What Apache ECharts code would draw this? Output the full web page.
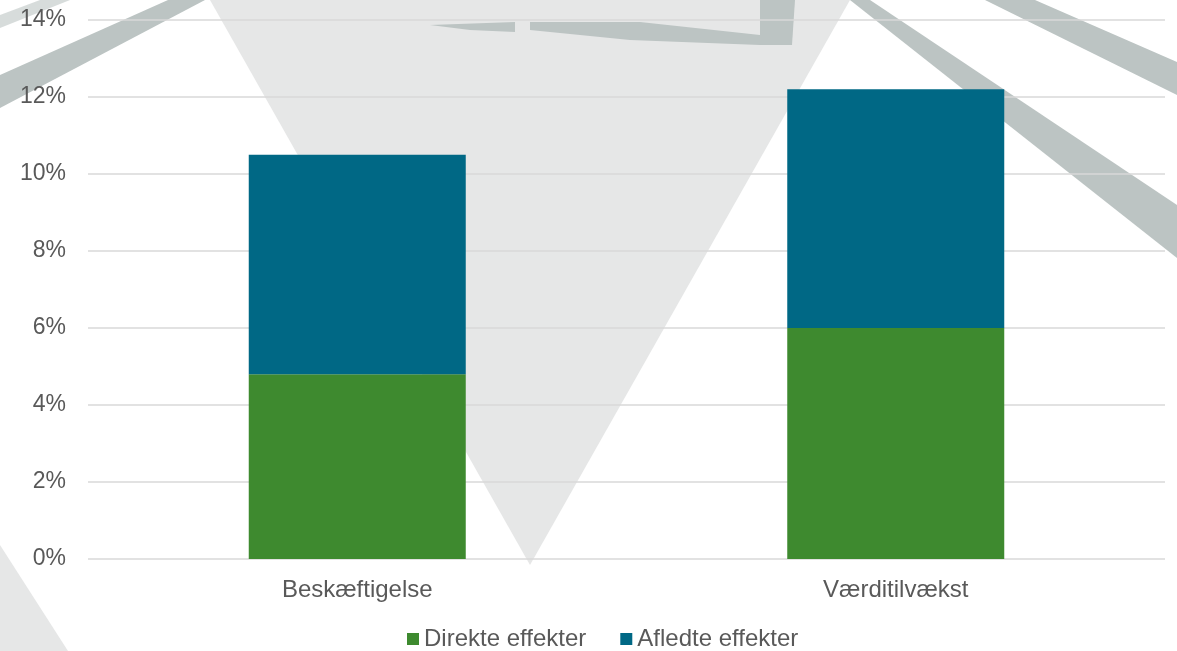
<!doctype html>
<html>
<head>
    <meta charset="utf-8">
    <title>Effekter</title>
    <script src="https://cdn.jsdelivr.net/npm/echarts@6/dist/echarts.min.js"></script>
    <style>
        html, body { margin: 0; padding: 0; background: #fff; }
        #chart { width: 1177px; height: 651px; }
    </style>
</head>
<body>
<div id="chart"></div>
<script type="text/javascript">

    var categories = ['Beskæftigelse', 'Værditilvækst'];
    var direkte = [4.8, 6.0];
    var afledte = [5.7, 6.2];
    var seriesNames = ['Direkte effekter', 'Afledte effekter'];

    var myChart = echarts.init(document.getElementById('chart'));

    // rough backdrop shapes (photo in the original)
    var light = '#e6e7e7', dark = '#bcc4c3';
    var backdrop = [
        { type: 'polygon', z: -10, shape: { points: [[210, 0], [850, 0], [530, 565]] }, style: { fill: light } },
        { type: 'polygon', z: -10, shape: { points: [[0, 545], [0, 651], [68, 651]] }, style: { fill: light } },
        { type: 'polygon', z: -9, shape: { points: [[0, 75], [168, 0], [205, 0], [0, 108]] }, style: { fill: dark } },
        { type: 'polygon', z: -9, shape: { points: [[0, 15], [40, 0], [70, 0], [0, 28]] }, style: { fill: dark, opacity: 0.6 } },
        { type: 'polygon', z: -9, shape: { points: [[850, 0], [870, 0], [1177, 205], [1177, 258]] }, style: { fill: dark } },
        { type: 'polygon', z: -9, shape: { points: [[985, 0], [1035, 0], [1177, 62], [1177, 95]] }, style: { fill: dark } },
        { type: 'polygon', z: -9, shape: { points: [[530, 22], [640, 22], [760, 35], [760, 45], [630, 40], [530, 30]] }, style: { fill: dark } },
        { type: 'polygon', z: -9, shape: { points: [[760, 0], [795, 0], [792, 45], [760, 45]] }, style: { fill: dark } },
        { type: 'polygon', z: -9, shape: { points: [[430, 25], [515, 22], [515, 32], [470, 30]] }, style: { fill: dark } }
    ];

    var option = {
        backgroundColor: '#ffffff',
        animation: false,
        graphic: backdrop,
        textStyle: { fontFamily: 'Liberation Sans, Arial, sans-serif' },
        grid: { left: 88, right: 12, top: 20, bottom: 92 },
        legend: {
            data: seriesNames,
            bottom: -5,
            left: 402,
            itemWidth: 12,
            itemHeight: 12,
            itemGap: 34,
            icon: 'rect',
            textStyle: { fontSize: 24, color: '#595959' }
        },
        xAxis: {
            type: 'category',
            data: categories,
            axisLine: { show: false },
            axisTick: { show: false },
            axisLabel: { fontSize: 24, color: '#595959', margin: 19 }
        },
        yAxis: {
            type: 'value',
            min: 0,
            max: 14,
            interval: 2,
            axisLine: { show: false },
            axisTick: { show: false },
            axisLabel: { fontSize: 23, color: '#595959', margin: 22, formatter: '{value}%' },
            splitLine: { lineStyle: { color: '#d9d9d9', width: 1.5 } }
        },
        series: [
            {
                name: seriesNames[0],
                type: 'bar',
                stack: 'total',
                barWidth: 217,
                itemStyle: { color: '#3e8a2f' },
                data: direkte
            },
            {
                name: seriesNames[1],
                type: 'bar',
                stack: 'total',
                barWidth: 217,
                itemStyle: { color: '#006885' },
                data: afledte
            }
        ]
    };

    myChart.setOption(option);

</script>
</body>
</html>
